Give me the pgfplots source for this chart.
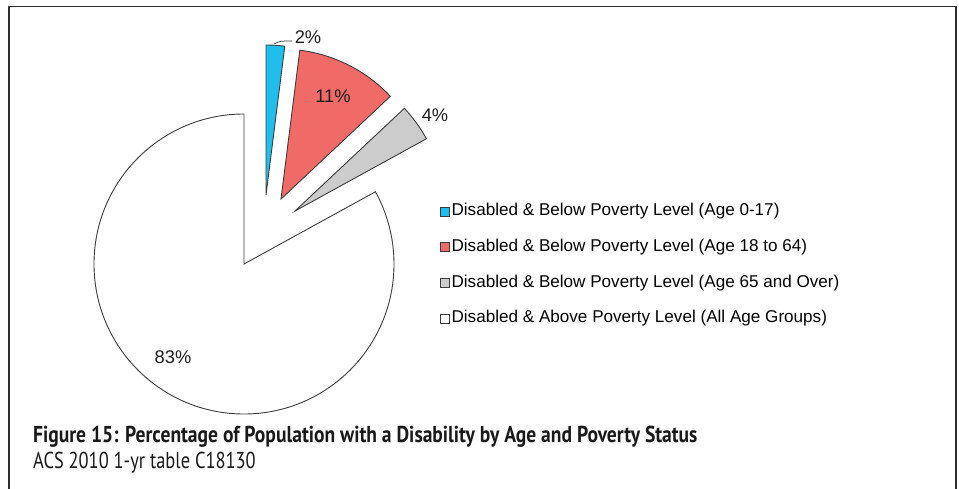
\documentclass[border=0pt]{standalone}
\usepackage{pgfplots}
\pgfplotsset{compat=1.18}
\usepackage{fontspec}
\setmainfont{Liberation Sans}
\newfontfamily\capfont[FakeStretch=0.8, BoldFeatures={FakeStretch=0.85}]{PT Sans}
\definecolor{cBlue}{RGB}{32,190,236}
\definecolor{cRed}{RGB}{240,106,103}
\definecolor{cGray}{RGB}{204,204,204}
\definecolor{cEdge}{RGB}{60,60,60}
\definecolor{cFrame}{RGB}{45,45,45}
% shares (percent)
\def\vA{2}\def\vB{11}\def\vC{4}\def\vD{83}
\pgfmathsetmacro\aA{90-3.6*\vA}
\pgfmathsetmacro\aB{\aA-3.6*\vB}
\pgfmathsetmacro\aC{\aB-3.6*\vC}
\pgfmathsetmacro\aD{90+3.6*\vD}
\def\R{150pt}
\begin{document}
\begin{tikzpicture}
\begin{axis}[
  x=1pt, y=1pt, xmin=0, xmax=959, ymin=0, ymax=489, y dir=reverse,
  hide axis, clip=false,
  legend image code/.code={\draw[#1] (0pt,-4.5pt) rectangle (9pt,4.5pt);},
  legend style={at={(axis cs:440,202)}, anchor=north west, draw=none, fill=none,
    font=\fontsize{17.1}{19}\selectfont, inner sep=0pt, row sep=16.7pt,
    nodes={inner sep=1.5pt, text height=12pt, text depth=4pt}},
  legend cell align=left,
]
\addplot[draw=none, forget plot] coordinates {(0,0) (959,489)};
\addlegendimage{fill=cBlue, draw=cEdge, line width=0.9pt}
\addlegendentry{Disabled \& Below Poverty Level (Age 0-17)}
\addlegendimage{fill=cRed, draw=cEdge, line width=0.9pt}
\addlegendentry{Disabled \& Below Poverty Level (Age 18 to 64)}
\addlegendimage{fill=cGray, draw=cEdge, line width=0.9pt}
\addlegendentry{Disabled \& Below Poverty Level (Age 65 and Over)}
\addlegendimage{fill=white, draw=cEdge, line width=0.9pt}
\addlegendentry{Disabled \& Above Poverty Level (All Age Groups)}
% frame
\draw[cFrame, line width=1.5pt] (axis cs:9,489) -- (axis cs:9,6.5) -- (axis cs:956,6.5) -- (axis cs:956,489);
% slices
\filldraw[fill=white, draw=cEdge, line width=0.9pt] (axis cs:244,264) -- ++(90:\R) arc[start angle=90, end angle=\aD, radius=\R] -- cycle;
\filldraw[fill=cBlue, draw=cEdge, line width=0.9pt] (axis cs:266,195) -- ++(90:\R) arc[start angle=90, end angle=\aA, radius=\R] -- cycle;
\filldraw[fill=cRed, draw=cEdge, line width=0.9pt] (axis cs:281,199) -- ++(\aA:\R) arc[start angle=\aA, end angle=\aB, radius=\R] -- cycle;
\filldraw[fill=cGray, draw=cEdge, line width=0.9pt] (axis cs:295,211) -- ++(\aB:\R) arc[start angle=\aB, end angle=\aC, radius=\R] -- cycle;
% labels
\draw[cEdge, line width=0.7pt] (axis cs:274,44) .. controls (axis cs:280,41) .. (axis cs:292,41);
\node[font=\fontsize{18.3}{20}\selectfont, text=black!88] at (axis cs:308,37) {2\%};
\node[font=\fontsize{18.3}{20}\selectfont, text=black!88] at (axis cs:333,96) {11\%};
\node[font=\fontsize{18.3}{20}\selectfont, text=black!88] at (axis cs:435,115) {4\%};
\node[font=\fontsize{18.3}{20}\selectfont, text=black!88] at (axis cs:173,357) {83\%};
% caption
\node[anchor=base west, inner sep=0pt, font=\capfont\bfseries\fontsize{23}{26}\selectfont, text=black!90] at (axis cs:33,442) {Figure 15: Percentage of Population with a Disability by Age and Poverty Status};
\node[anchor=base west, inner sep=0pt, font=\capfont\fontsize{23}{26}\selectfont, text=black!90] at (axis cs:33,468) {ACS 2010 1-yr table C18130};
\end{axis}
\pgfresetboundingbox
\path[use as bounding box] (current axis.south west) rectangle (current axis.north east);
\end{tikzpicture}
\end{document}
